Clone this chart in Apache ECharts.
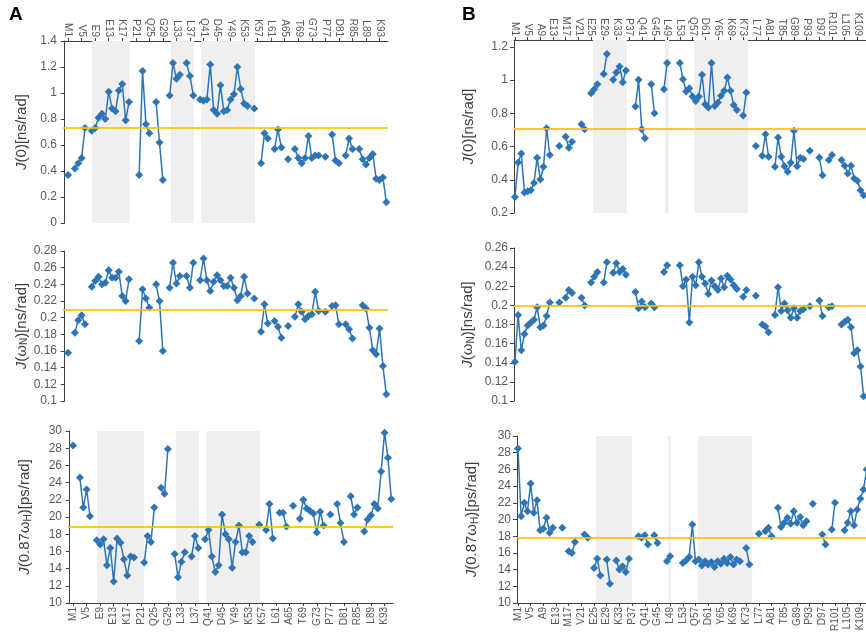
<!DOCTYPE html>
<html><head><meta charset="utf-8">
<script src="https://cdn.jsdelivr.net/npm/echarts@6/dist/echarts.min.js"></script>
<style>html,body{margin:0;padding:0;background:#fff}#c{width:866px;height:633px}</style>
</head><body><div id="c"></div>
<script>
// ---------- tick labels ----------
const A_TICK_LABELS = ['M1','V5','E9','E13','K17','P21','Q25','G29','L33','L37','Q41','D45','Y49','K53','K57','L61','A65','T69','G73','P77','D81','R85','L89','K93'];
const B_TICK_LABELS = ['M1','V5','A9','E13','M17','V21','E25','E29','K33','P37','Q41','G45','L49','L53','Q57','D61','Y65','K69','K73','L77','A81','T85','G89','P93','D97','R101','L105','K109'];

// ---------- panel A values (residue 1..95, null = no data) ----------
const A_J0 = [0.37,null,0.42,0.46,0.50,0.73,null,0.71,0.73,0.81,0.84,0.80,1.01,0.88,0.86,1.02,1.07,0.79,0.93,null,
 null,0.37,1.17,0.76,0.69,null,0.93,0.62,0.33,null,0.98,1.23,1.11,1.14,null,1.23,1.13,0.98,null,0.95,
 0.94,0.95,1.22,0.87,0.84,1.06,0.86,0.87,0.95,0.99,1.20,1.03,0.92,0.90,null,0.88,null,0.46,0.69,0.65,
 null,0.57,0.72,0.58,null,0.49,null,0.57,0.50,0.46,0.50,0.67,0.50,0.52,0.52,null,0.51,null,0.68,0.48,
 0.46,null,0.52,0.65,0.57,null,0.57,0.49,0.45,0.50,0.53,0.34,0.33,0.35,0.16];
const A_JN = [0.158,null,0.182,0.197,0.203,0.192,null,0.237,0.244,0.249,0.240,0.242,0.257,0.248,0.248,0.255,0.226,0.220,0.246,null,
 null,0.172,0.234,0.223,0.212,null,0.240,0.220,0.160,null,0.236,0.266,0.241,0.250,null,0.250,0.236,0.266,null,0.245,
 0.271,0.245,0.232,0.243,0.251,0.245,0.238,0.238,0.248,0.236,0.221,0.226,0.249,0.229,null,0.223,null,0.183,0.216,0.193,
 null,0.196,0.189,0.176,null,0.190,null,0.201,0.216,0.207,0.198,0.202,0.204,0.231,0.208,null,0.207,null,0.214,0.215,
 0.192,null,0.192,0.186,0.175,null,null,0.215,0.211,0.188,0.161,0.156,0.187,0.142,0.108];
const A_JH = [28.3,null,24.6,21.1,23.2,20.1,null,17.3,16.8,17.4,14.4,16.4,12.5,17.5,17.0,15.1,13.2,15.4,15.3,null,
 null,14.7,17.8,17.1,21.1,null,23.4,22.7,27.9,null,15.7,13.0,14.8,15.9,null,15.4,17.8,16.4,null,17.4,
 18.5,15.4,13.6,14.4,20.3,18.0,17.4,14.1,17.1,19.0,15.9,15.9,17.8,17.1,null,19.1,null,18.5,21.5,17.5,
 null,20.5,20.5,18.9,null,21.3,null,19.8,22.0,21.0,20.7,20.4,18.2,20.6,19.0,null,20.3,null,21.5,19.3,
 17.1,null,22.4,20.3,21.1,null,18.3,19.7,20.2,21.5,21.0,25.3,29.8,26.9,22.1];
const A_MEANS = [0.73, 0.213, 18.9];
const A_TOP_BANDS = [[8.1,19.3],[31.4,38.2],[40.3,56.2]];
const A_BOT_BANDS = [[8.1,22.0],[31.4,38.2],[40.3,56.2]];

// ---------- panel B values (residue 1..111) ----------
const B_J0 = [0.297,0.504,0.559,0.323,0.331,0.337,0.381,0.533,0.402,0.478,0.710,0.549,null,null,0.603,null,0.660,0.593,0.629,null,
 null,0.734,0.704,null,0.922,0.946,0.976,null,1.037,1.158,null,1.002,1.047,1.083,0.988,1.059,null,null,0.841,1.002,
 0.704,0.650,null,0.975,0.801,null,null,0.946,1.103,null,null,null,1.103,1.006,0.932,0.952,0.902,0.875,0.902,1.033,
 0.855,0.835,1.103,0.845,0.865,0.906,0.936,1.016,0.936,0.851,0.821,null,0.787,0.926,null,null,0.603,null,0.545,0.674,
 0.539,null,0.478,0.654,0.539,0.482,0.448,0.502,0.696,0.482,0.533,0.525,null,0.575,null,null,0.535,0.428,null,0.519,
 0.549,null,null,0.519,0.484,0.438,0.484,0.408,0.394,0.337,0.307];
const B_JN = [0.141,0.190,0.153,0.170,0.179,0.182,0.185,0.198,0.177,0.179,0.189,0.203,null,null,0.203,null,0.208,0.216,0.213,null,
 null,0.208,0.200,null,0.224,0.230,0.235,null,0.224,0.245,null,0.234,0.244,0.235,0.238,0.232,null,null,0.214,0.197,
 0.204,0.198,null,0.202,0.198,null,null,0.235,0.242,null,null,null,0.242,0.220,0.227,0.182,0.230,0.221,0.245,0.230,
 0.223,0.212,0.226,0.220,0.216,0.228,0.219,0.231,0.227,0.221,0.217,null,0.209,0.216,null,null,0.210,null,0.180,0.178,
 0.172,null,0.190,0.219,0.194,0.202,0.195,0.187,0.197,0.187,0.194,0.196,null,0.199,null,null,0.205,0.189,null,0.198,
 0.199,null,null,0.180,0.183,0.185,0.177,0.150,0.153,0.136,0.105];
const B_JH = [28.5,20.4,22.0,21.0,24.3,20.8,22.3,18.7,18.9,20.2,18.4,19.0,null,null,19.0,null,16.2,16.0,17.3,null,
 null,18.2,17.8,null,14.2,15.3,13.3,null,15.2,12.3,null,15.1,14.0,14.4,13.7,15.3,null,null,18.0,17.8,
 18.1,17.0,null,18.1,17.2,null,null,15.0,15.6,null,null,null,14.8,15.1,15.5,19.4,15.0,15.2,14.5,15.0,
 14.6,14.9,14.3,15.0,14.7,15.3,14.8,15.5,14.6,15.2,15.0,null,16.6,14.6,null,null,18.3,null,18.6,19.0,
 18.0,null,21.4,19.1,19.6,20.2,19.5,21.0,19.6,20.3,19.3,19.8,null,21.9,null,null,18.2,17.0,null,18.8,
 22.0,null,null,18.7,19.6,21.0,19.3,21.2,22.5,23.6,26.0];
const B_MEANS = [0.714, 0.203, 17.8];
const B_TOP_BANDS = [[25.6,36.3],[48.3,49.6],[57.5,74.5]];
const B_BOT_BANDS = [[25.6,37.0],[48.3,49.3],[57.8,74.8]];

// ---------- helpers ----------
const BLUE = '#2E75B6', GOLD = '#FFC000', BAND = '#EFEFEF', AXIS = '#404040', TXT = '#595959';
const FONT = 'Liberation Sans, Arial, sans-serif';
const resOf = l => parseInt(l.slice(1), 10);
const toData = arr => arr.map((v, i) => [i + 1, v == null ? '-' : v]);

const grids = [
  {left:63,  top:41,  width:325, height:182},
  {left:63,  top:251, width:325, height:150},
  {left:68,  top:431, width:325, height:172},
  {left:514, top:40,  width:376, height:173},
  {left:514, top:248, width:376, height:153},
  {left:517, top:436, width:376, height:167}
].map(g => Object.assign(g, {containLabel:false, outerBoundsMode:'none'}));

function xAx(gi, labels, min, max, pos) {
  const vals = labels.map(resOf);
  const map = {}; labels.forEach(l => map[resOf(l)] = l);
  return {
    type:'value', gridIndex:gi, min:min, max:max, position: pos || 'bottom',
    axisLine:{show:true, onZero:false, lineStyle:{color:AXIS, width:1}},
    axisTick:{show:true, length:3, customValues: vals, lineStyle:{color:AXIS}},
    axisLabel:{show:true, rotate:90, fontSize:10, color:TXT, fontFamily:FONT, margin:4,
      customValues: vals, formatter: v => map[Math.round(v)] || ''},
    splitLine:{show:false}
  };
}
function yAx(gi, min, max, interval, name, gap, ticks) {
  const o = {
    type:'value', gridIndex:gi, min:min, max:max, interval:interval,
    name:name, nameLocation:'middle', nameGap:gap, nameRotate:90,
    nameTextStyle:{fontSize:15, color:AXIS, fontFamily:FONT,
      rich:{i:{fontStyle:'italic', fontSize:15, color:AXIS, fontFamily:FONT},
            s:{fontSize:10, color:AXIS, fontFamily:FONT, verticalAlign:'bottom', padding:[6,0,0,0]}}},
    axisLine:{show:true, lineStyle:{color:AXIS, width:1}},
    axisTick:{show:true, length:4, lineStyle:{color:AXIS}},
    axisLabel:{fontSize:12, color:TXT, fontFamily:FONT, margin:6},
    splitLine:{show:false}
  };
  if (ticks) { o.axisTick.customValues = ticks; o.axisLabel.customValues = ticks; }
  return o;
}

const xAxes = [
  xAx(0, A_TICK_LABELS, -0.5, 95.5, 'top'),
  Object.assign(xAx(1, A_TICK_LABELS, -0.5, 95.5, 'bottom'), {show:false}),
  xAx(2, A_TICK_LABELS, -0.5, 95.5, 'bottom'),
  xAx(3, B_TICK_LABELS, 0.7, 119.3, 'top'),
  Object.assign(xAx(4, B_TICK_LABELS, 0.7, 119.3, 'bottom'), {show:false}),
  xAx(5, B_TICK_LABELS, 0.7, 119.3, 'bottom')
];
const nJ0 = '{i|J}(0)[ns/rad]', nJN = '{i|J}(ω{s|N})[ns/rad]', nJH = '{i|J}(0.87ω{s|H})[ps/rad]';
const yAxes = [
  yAx(0, 0, 1.4, 0.2, nJ0, 34),
  yAx(1, 0.1, 0.28, 0.02, nJN, 30),
  yAx(2, 10, 30, 2, nJH, 35),
  yAx(3, 0.2, 1.242, 0.2, nJ0, 38, [0.2,0.4,0.6,0.8,1.0,1.2]),
  yAx(4, 0.1, 0.26, 0.02, nJN, 38),
  yAx(5, 10, 30, 2, nJH, 37)
];

const sets = [
  {d:A_J0, m:A_MEANS[0], b:A_TOP_BANDS},
  {d:A_JN, m:A_MEANS[1], b:[]},
  {d:A_JH, m:A_MEANS[2], b:A_BOT_BANDS},
  {d:B_J0, m:B_MEANS[0], b:B_TOP_BANDS},
  {d:B_JN, m:B_MEANS[1], b:[]},
  {d:B_JH, m:B_MEANS[2], b:B_BOT_BANDS}
];
const series = [];
sets.forEach((s, i) => {
  series.push({
    type:'line', xAxisIndex:i, yAxisIndex:i, data:[], z:1, silent:true,
    markArea:{silent:true, itemStyle:{color:BAND}, data: s.b.map(b => [{xAxis:b[0]}, {xAxis:b[1]}])},
    markLine:{silent:true, symbol:['none','none'], label:{show:false},
      lineStyle:{color:GOLD, width:2.2, type:'solid', opacity:0.85}, data:[{yAxis:s.m}]}
  });
  series.push({
    type:'line', xAxisIndex:i, yAxisIndex:i, data: toData(s.d), z:3,
    connectNulls:false, symbol:'diamond', symbolSize:8, showSymbol:true,
    itemStyle:{color:BLUE}, lineStyle:{color:BLUE, width:1.5}, animation:false
  });
});

const chart = echarts.init(document.getElementById('c'), null, {renderer:'canvas'});
chart.setOption({
  animation:false,
  grid: grids, xAxis: xAxes, yAxis: yAxes, series: series,
  graphic:[
    {type:'text', left:9, top:5, style:{text:'A', fontSize:19, fontWeight:'bold', fill:'#000', fontFamily:FONT}},
    {type:'text', left:462, top:5, style:{text:'B', fontSize:19, fontWeight:'bold', fill:'#000', fontFamily:FONT}}
  ]
});
</script></body></html>
